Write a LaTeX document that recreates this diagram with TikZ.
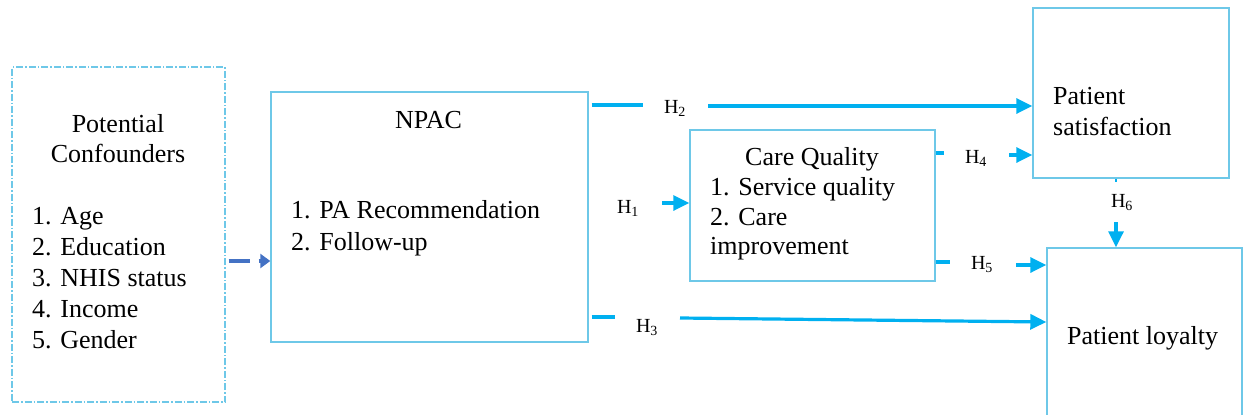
\documentclass[tikz,border=0pt]{standalone}
\usepackage{fontspec}
\setmainfont{Liberation Serif}
\newfontfamily\diagramfont{Liberation Serif}
\usetikzlibrary{arrows.meta}
\definecolor{boxline}{RGB}{110,200,232}
\definecolor{linkblue}{RGB}{0,176,240}
\definecolor{confblue}{RGB}{68,114,196}
\begin{document}
\begin{tikzpicture}[x=1pt,y=-1pt,
  box/.style={draw=boxline,line width=1.4pt,rectangle,inner sep=0pt},
  confbox/.style={draw=boxline,line width=1.2pt,rectangle,inner sep=0pt,
    dash pattern=on 7pt off 2pt on 1.5pt off 2pt},
  txt/.style={anchor=base west,inner sep=0pt,font=\diagramfont\fontsize{26}{31}\selectfont},
  ctxt/.style={anchor=base,inner sep=0pt,font=\diagramfont\fontsize{26}{31}\selectfont},
  hlab/.style={anchor=base,inner sep=0pt,font=\diagramfont\fontsize{20}{22}\selectfont},
  stub/.style={draw=linkblue,line width=3.2pt},
  link/.style={draw=linkblue,line width=3.2pt,-{Triangle[length=16pt,width=15pt]}},
  conflink/.style={draw=confblue,line width=3.2pt,dash pattern=on 21pt off 9pt,
    -{Triangle[length=10pt,width=14pt]}}]
\useasboundingbox (0,0) rectangle (1245,415);

% boxes
\node[confbox,minimum width=213pt,minimum height=335pt] (conf) at (118.5,234.5) {};
\node[box,minimum width=317pt,minimum height=250pt] (npac) at (429.5,217) {};
\node[box,minimum width=245pt,minimum height=151pt] (care) at (812.5,205.5) {};
\node[box,minimum width=196pt,minimum height=170pt] (sat) at (1131,93) {};
\node[box,minimum width=195pt,minimum height=182pt] (loy) at (1144.5,339) {};

% potential confounders
\node[ctxt] (conf1) at (118,132) {Potential};
\node[ctxt] (conf2) at (118,162) {Confounders};
\node[txt] (confa) at (32,224) {1. Age};
\node[txt] (confb) at (32,255) {2. Education};
\node[txt] (confc) at (32,286) {3. NHIS status};
\node[txt] (confd) at (32,317) {4. Income};
\node[txt] (confe) at (32,348) {5. Gender};

% NPAC
\node[ctxt] (npac0) at (428.5,128) {NPAC};
\node[txt] (npac1) at (291,218) {1. PA Recommendation};
\node[txt] (npac2) at (291,250) {2. Follow-up};

% care quality
\node[ctxt] (care0) at (812,165) {Care Quality};
\node[txt] (care1) at (710,195) {1. Service quality};
\node[txt] (care2) at (710,225) {2. Care};
\node[txt] (care3) at (710,254) {improvement};

% outcomes
\node[txt] (sat1) at (1053,104) {Patient};
\node[txt] (sat2) at (1053,135) {satisfaction};
\node[txt] (loy1) at (1067,344) {Patient loyalty};

% hypothesis labels
\node[hlab] (h1) at (628,213) {H\textsubscript{1}};
\node[hlab] (h2) at (675,113) {H\textsubscript{2}};
\node[hlab] (h3) at (647,332) {H\textsubscript{3}};
\node[hlab] (h4) at (976,163) {H\textsubscript{4}};
\node[hlab] (h5) at (982,269) {H\textsubscript{5}};
\node[hlab] (h6) at (1122,207) {H\textsubscript{6}};

% confounders -> NPAC
\draw[conflink,shorten <=3pt] (conf.east |- 0,261) -- (npac.west |- 0,261);

% H2: NPAC -> satisfaction
\coordinate (h2s) at (643,105);
\coordinate (h2e) at (708,106);
\draw[stub,shorten <=3pt] (npac.east |- h2s) -- (h2s);
\draw[link] (h2e) -- (sat.west |- h2e);

% H1: NPAC -> care quality
\coordinate (h1e) at (662,203);
\draw[link] (h1e) -- (care.west |- h1e);

% H3: NPAC -> loyalty
\coordinate (h3s) at (615,317);
\coordinate (h3e) at (680,318);
\coordinate (h3t) at (1045,322);
\draw[stub,shorten <=3pt] (npac.east |- h3s) -- (h3s);
\draw[link] (h3e) -- (loy.west |- h3t);

% H4: care quality -> satisfaction
\coordinate (h4s) at (944,153);
\coordinate (h4e) at (1009,155);
\draw[stub] (care.east |- h4s) -- (h4s);
\draw[link] (h4e) -- (sat.west |- h4e);

% H5: care quality -> loyalty
\coordinate (h5s) at (950,262);
\coordinate (h5e) at (1016,265);
\draw[stub] (care.east |- h5s) -- (h5s);
\draw[link] (h5e) -- (loy.west |- h5e);

% H6: satisfaction -> loyalty
\coordinate (h6s) at (1116,182);
\coordinate (h6e) at (1116,222);
\draw[stub,line width=2pt] (sat.south -| h6s) -- (h6s);
\draw[link] (h6e) -- (loy.north -| h6e);
\end{tikzpicture}
\end{document}
